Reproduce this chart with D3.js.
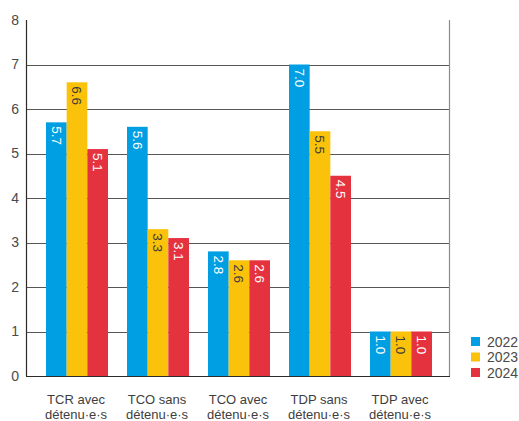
<!DOCTYPE html>
<html>
<head>
<meta charset="utf-8">
<script src="https://cdn.jsdelivr.net/npm/d3@7"></script>
<style>
  html, body { margin: 0; padding: 0; background: #fff; }
  svg { display: block; font-family: "Liberation Sans", Arial, sans-serif; }
</style>
</head>
<body>
<svg id="chart" width="519" height="421"></svg>
<script>
// Categories (two-line labels) and yearly values
const categories = [
  ["TCR avec", "détenu·e·s"],
  ["TCO sans", "détenu·e·s"],
  ["TCO avec", "détenu·e·s"],
  ["TDP sans", "détenu·e·s"],
  ["TDP avec", "détenu·e·s"]
];
const years = ["2022", "2023", "2024"];
const values2022 = [5.7, 5.6, 2.8, 7.0, 1.0];
const values2023 = [6.6, 3.3, 2.6, 5.5, 1.0];
const values2024 = [5.1, 3.1, 2.6, 4.5, 1.0];
const yTicks = [0, 1, 2, 3, 4, 5, 6, 7, 8];

const series = [values2022, values2023, values2024];
const colors = ["#009fe3", "#fbc20b", "#e5323f"];
const labelColors = ["#ffffff", "#3a3a3a", "#ffffff"];

const svg = d3.select("#chart");
const plotLeft = 26, plotRight = 450, plotTop = 20, plotBottom = 376;

const y = d3.scaleLinear().domain([0, 8]).range([plotBottom, plotTop]);
const catKeys = categories.map(c => c.join(" "));
const x0 = d3.scaleBand().domain(catKeys).range([46, 432]).paddingInner(19 / 81).paddingOuter(0);
const x1 = d3.scaleBand().domain(years).range([0, x0.bandwidth()]);

// Horizontal gridlines
svg.append("g")
  .selectAll("line")
  .data(yTicks.filter(t => t > 0 && t < 8))
  .join("line")
  .attr("x1", plotLeft).attr("x2", plotRight)
  .attr("y1", d => Math.round(y(d)) + 0.5).attr("y2", d => Math.round(y(d)) + 0.5)
  .attr("stroke", "#5a5654").attr("stroke-width", 1);

// Right border
svg.append("line")
  .attr("x1", plotRight - 0.5).attr("x2", plotRight - 0.5)
  .attr("y1", plotTop).attr("y2", plotBottom)
  .attr("stroke", "#8e8b89").attr("stroke-width", 1.2);

// Bars
const groups = svg.append("g")
  .selectAll("g")
  .data(catKeys)
  .join("g")
  .attr("transform", d => `translate(${x0(d)},0)`);

groups.each(function (cat, ci) {
  const g = d3.select(this);
  years.forEach((yr, si) => {
    const v = series[si][ci];
    g.append("rect")
      .attr("x", x1(yr))
      .attr("y", y(v))
      .attr("width", x1.bandwidth())
      .attr("height", y(0) - y(v))
      .attr("fill", colors[si]);
    const cx = x1(yr) + x1.bandwidth() / 2;
    g.append("text")
      .attr("transform", `translate(${cx},${y(v) + 4}) rotate(90)`)
      .attr("dy", "0.35em")
      .attr("text-anchor", "start")
      .attr("font-size", 13.5)
      .attr("fill", labelColors[si])
      .text(v.toFixed(1));
  });
});

// Left axis line and baseline
svg.append("line")
  .attr("x1", plotLeft + 0.5).attr("x2", plotLeft + 0.5)
  .attr("y1", plotTop).attr("y2", plotBottom)
  .attr("stroke", "#2e2a28").attr("stroke-width", 1.2);
svg.append("line")
  .attr("x1", plotLeft).attr("x2", plotRight)
  .attr("y1", plotBottom + 0.5).attr("y2", plotBottom + 0.5)
  .attr("stroke", "#2e2a28").attr("stroke-width", 1.2);

// Y tick labels
svg.append("g")
  .selectAll("text")
  .data(yTicks)
  .join("text")
  .attr("x", 19)
  .attr("y", d => y(d))
  .attr("dy", "0.35em")
  .attr("text-anchor", "end")
  .attr("font-size", 14)
  .attr("fill", "#4a4a4a")
  .text(d => d);

// X category labels
const xl = svg.append("g")
  .selectAll("text")
  .data(categories)
  .join("text")
  .attr("text-anchor", "middle")
  .attr("font-size", 13)
  .attr("fill", "#3e3e3e");
xl.each(function (lines, i) {
  const cx = x0(catKeys[i]) + x0.bandwidth() / 2 - 1;
  d3.select(this).selectAll("tspan")
    .data(lines)
    .join("tspan")
    .attr("x", cx)
    .attr("y", (d, j) => 404 + j * 14.5)
    .text(d => d);
});

// Legend
const legend = svg.append("g")
  .selectAll("g")
  .data(years)
  .join("g")
  .attr("transform", (d, i) => `translate(471,${337 + i * 15.5})`);
legend.append("rect")
  .attr("width", 9).attr("height", 9)
  .attr("fill", (d, i) => colors[i]);
legend.append("text")
  .attr("x", 16).attr("y", 4.5)
  .attr("dy", "0.36em")
  .attr("font-size", 14)
  .attr("fill", "#4a4a4a")
  .text(d => d);
</script>
</body>
</html>
